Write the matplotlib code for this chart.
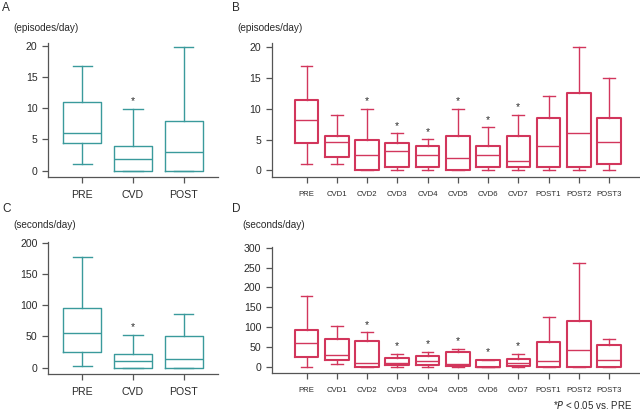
import matplotlib
matplotlib.use("Agg")
import matplotlib.pyplot as plt

plt.rcParams['font.family'] = ['Liberation Sans', 'DejaVu Sans']

TEAL = "#3a9a9c"
RED = "#d2365c"
AXC = "#555555"
TXT = "#2a2a2a"

# ---- data ----
cats3 = ["PRE", "CVD", "POST"]
cats11 = ["PRE", "CVD1", "CVD2", "CVD3", "CVD4", "CVD5", "CVD6", "CVD7", "POST1", "POST2", "POST3"]

# Panel A (episodes/day): low whisker, Q1, median, Q3, high whisker
A_lo = [1.0, 0.0, 0.0]
A_q1 = [4.4, 0.0, 0.0]
A_med = [6.1, 1.9, 3.0]
A_q3 = [10.9, 4.0, 8.0]
A_hi = [16.8, 9.9, 19.8]
A_sig = [False, True, False]

# Panel B (episodes/day)
B_lo = [1.0, 1.0, 0.0, 0.0, 0.0, 0.0, 0.0, 0.0, 0.0, 0.0, 0.0]
B_q1 = [4.5, 2.1, 0.0, 0.6, 0.6, 0.0, 0.6, 0.6, 0.6, 0.6, 1.0]
B_med = [8.1, 4.6, 2.5, 3.1, 2.55, 1.95, 2.5, 1.55, 3.95, 6.05, 4.55]
B_q3 = [11.5, 5.5, 5.0, 4.5, 4.0, 5.5, 4.0, 5.5, 8.55, 12.5, 8.55]
B_hi = [17.0, 9.05, 10.0, 6.0, 5.05, 10.0, 7.0, 9.0, 12.0, 20.0, 15.0]
B_sig = [False, False, True, True, True, True, True, True, False, False, False]

# Panel C (seconds/day)
C_lo = [2.7, 0.0, 0.0]
C_q1 = [25.5, 0.0, 0.0]
C_med = [56.0, 10.0, 13.3]
C_q3 = [95.0, 22.4, 51.2]
C_hi = [177.5, 52.3, 86.4]
C_sig = [False, True, False]

# Panel D (seconds/day)
D_lo = [0.0, 8.4, 0.0, 0.0, 0.0, 0.0, 0.0, 0.0, 0.0, 0.0, 0.0]
D_q1 = [24.3, 18.4, 0.0, 4.2, 4.2, 3.4, 0.0, 2.5, 0.0, 0.0, 0.0]
D_med = [61.2, 30.2, 9.2, 10.0, 14.2, 7.5, 0.5, 9.2, 15.9, 41.9, 18.4]
D_q3 = [92.2, 71.2, 66.2, 23.5, 28.5, 38.6, 17.6, 20.0, 62.0, 116.5, 56.2]
D_hi = [178.5, 104.0, 87.2, 32.7, 38.6, 45.3, 17.6, 32.7, 124.9, 260.7, 71.2]
D_sig = [False, False, True, True, True, True, True, True, False, False, False]

A_ticks = [0, 5, 10, 15, 20]
C_ticks = [0, 50, 100, 150, 200]
D_ticks = [0, 50, 100, 150, 200, 250, 300]

W, H = 640, 413
fig = plt.figure(figsize=(W / 100, H / 100), dpi=100)


def add_ax(x0, x1, ytop, ybot):
    return fig.add_axes([x0 / W, 1 - ybot / H, (x1 - x0) / W, (ybot - ytop) / H])


def draw(ax, cats, lo, q1, med, q3, hi, sig, color, width, boxlw, ticks,
         ylim, xlim, xfs, ypad_pts):
    stats = []
    for c, a, b, m, d, e in zip(cats, lo, q1, med, q3, hi):
        stats.append(dict(label=c, whislo=a, q1=b, med=m, q3=d, whishi=e, fliers=[]))
    pos = list(range(1, len(cats) + 1))
    ax.bxp(stats, positions=pos, widths=width, showfliers=False,
           boxprops=dict(color=color, lw=boxlw),
           whiskerprops=dict(color=color, lw=1.0),
           capprops=dict(color=color, lw=1.0),
           medianprops=dict(color=color, lw=1.0))
    for p, s, e in zip(pos, sig, hi):
        if s:
            ax.annotate("*", xy=(p, e), xytext=(0, ypad_pts), textcoords="offset points",
                        ha="center", va="baseline", fontsize=7.5, color=TXT)
    ax.set_ylim(*ylim)
    ax.set_xlim(*xlim)
    ax.set_yticks(ticks)
    ax.set_xticks(pos)
    ax.set_xticklabels(cats)
    for sp in ["top", "right"]:
        ax.spines[sp].set_visible(False)
    for sp in ["left", "bottom"]:
        ax.spines[sp].set_color(AXC)
        ax.spines[sp].set_linewidth(0.9)
    ax.tick_params(axis="y", length=4.3, width=0.9, color=AXC, labelsize=7.6,
                   labelcolor=TXT, pad=3.2)
    ax.tick_params(axis="x", length=4.3, width=0.9, color=AXC, labelsize=xfs,
                   labelcolor=TXT, pad=5.5)
    ax.patch.set_alpha(0)


axA = add_ax(48, 218, 43, 176.7)
draw(axA, cats3, A_lo, A_q1, A_med, A_q3, A_hi, A_sig, TEAL, 0.75, 1.0,
     A_ticks, (-0.96, 20.4), (0.33, 3.67), 7.6, 3.2)

axB = add_ax(271.7, 640, 43.3, 177)
draw(axB, cats11, B_lo, B_q1, B_med, B_q3, B_hi, B_sig, RED, 0.78, 1.5,
     A_ticks, (-1.09, 20.65), (-0.15, 12.02), 5.6, 3.2)

axC = add_ax(48, 218, 241.7, 373.7)
draw(axC, cats3, C_lo, C_q1, C_med, C_q3, C_hi, C_sig, TEAL, 0.75, 1.0,
     C_ticks, (-9.6, 201.6), (0.33, 3.67), 7.6, 3.2)

axD = add_ax(271.7, 640, 246.7, 373.3)
draw(axD, cats11, D_lo, D_q1, D_med, D_q3, D_hi, D_sig, RED, 0.78, 1.5,
     D_ticks, (-15.8, 302.5), (-0.15, 12.02), 5.6, 3.2)


def ftext(x, y, s, **kw):
    fig.text(x / W, 1 - y / H, s, color=TXT, **kw)


ftext(2, 8, "A", fontsize=8.5, va="center", ha="left")
ftext(232, 8, "B", fontsize=8.5, va="center", ha="left")
ftext(2, 209, "C", fontsize=8.5, va="center", ha="left")
ftext(232, 209, "D", fontsize=8.5, va="center", ha="left")

ftext(13, 28, "(episodes/day)", fontsize=7.2, va="center", ha="left")
ftext(237, 28, "(episodes/day)", fontsize=7.2, va="center", ha="left")
ftext(13, 225, "(seconds/day)", fontsize=7.2, va="center", ha="left")
ftext(242, 225, "(seconds/day)", fontsize=7.2, va="center", ha="left")

ftext(632, 405, r"*$\it{P}$ < 0.05 vs. PRE", fontsize=7.0, va="center", ha="right")

fig.savefig("out.png", dpi=100)
